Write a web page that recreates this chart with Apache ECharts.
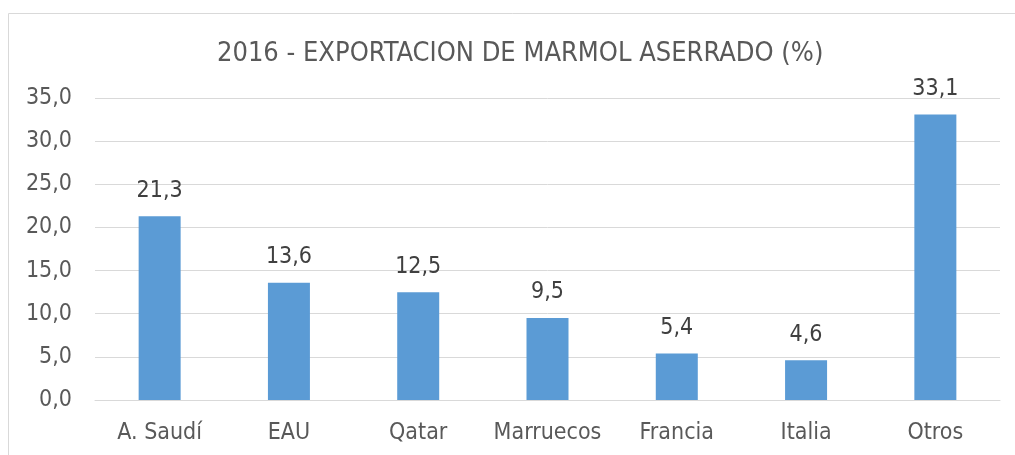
<!DOCTYPE html>
<html>
<head>
<meta charset="utf-8">
<script src="https://cdn.jsdelivr.net/npm/echarts@6/dist/echarts.min.js"></script>
<style>
  html, body { margin: 0; padding: 0; background: #fff; }
  #chart { width: 1015px; height: 455px; }
</style>
</head>
<body>
<div id="chart"></div>
<script>
const categories = ['A. Saudí', 'EAU', 'Qatar', 'Marruecos', 'Francia', 'Italia', 'Otros'];
const values = [21.3, 13.6, 12.5, 9.5, 5.4, 4.6, 33.1];
const titleText = '2016 - EXPORTACION DE MARMOL ASERRADO (%)';

const fontFamily = '"DejaVu Sans Condensed", "DejaVu Sans", sans-serif';
const comma = v => v.toFixed(1).replace('.', ',');

function init() {
    const instance = echarts.init(document.getElementById('chart'));
    let option = {
        animation: false,
        textStyle: { fontFamily: fontFamily },
        title: {
            text: titleText,
            left: 212,
            top: 35,
            textStyle: {
                color: '#595959',
                fontSize: 27,
                fontWeight: 'normal',
                fontFamily: fontFamily
            }
        },
        graphic: [{
            type: 'rect',
            shape: { x: 8.5, y: 13.5, width: 1200, height: 600 },
            style: { fill: 'none', stroke: '#d9d9d9', lineWidth: 1 },
            silent: true
        }],
        grid: { left: 95, right: 15, top: 98, bottom: 55 },
        xAxis: {
            type: 'category',
            data: categories,
            axisLine: { show: true, lineStyle: { color: '#d9d9d9' } },
            axisTick: { show: false },
            axisLabel: { color: '#595959', fontSize: 23, margin: 22, interval: 0 }
        },
        yAxis: {
            type: 'value',
            min: 0,
            max: 35,
            interval: 5,
            axisLine: { show: false },
            axisTick: { show: false },
            splitLine: { lineStyle: { color: '#d9d9d9', width: 1 } },
            axisLabel: {
                color: '#595959',
                fontSize: 23,
                margin: 23,
                padding: [5, 0, 0, 0],
                formatter: v => comma(v)
            }
        },
        series: [{
            type: 'bar',
            data: values,
            barWidth: 42,
            itemStyle: { color: '#5b9bd5' },
            label: {
                show: true,
                position: 'top',
                distance: 14,
                color: '#404040',
                fontSize: 23,
                formatter: p => comma(p.value)
            }
        }]
    };

    instance && instance.setOption(option);

    window.onresize = function () {
        instance.resize();
    };
}
init();
</script>
</body>
</html>
